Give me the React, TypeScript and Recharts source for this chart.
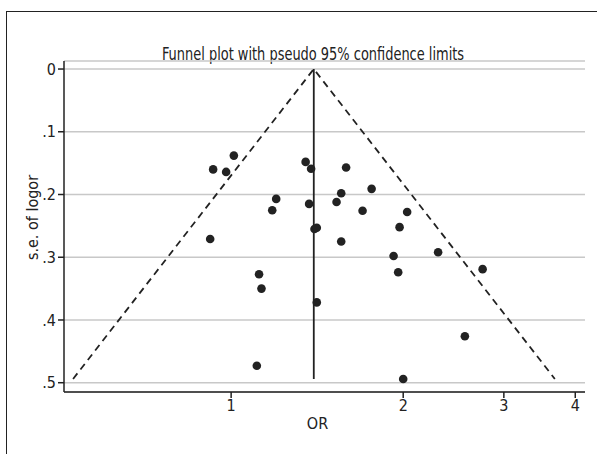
import {
  CartesianGrid,
  Label,
  Scatter,
  ScatterChart,
  XAxis,
  YAxis,
} from "recharts";

// odds ratios and standard errors of the studies
const studyOr = [
  0.93, 0.98, 1.011, 1.199, 1.18, 0.919, 1.119, 1.13, 1.35, 1.38,
  1.589, 1.558, 1.761, 1.369, 1.529, 1.698, 2.032, 1.399, 1.412, 1.971,
  1.558, 1.924, 2.302, 1.96, 2.754, 1.109, 1.412, 2.564, 2.0,
];
const studySe = [
  0.16, 0.164, 0.138, 0.207, 0.225, 0.271, 0.327, 0.35, 0.148, 0.159,
  0.157, 0.198, 0.191, 0.215, 0.212, 0.226, 0.228, 0.255, 0.253, 0.252,
  0.275, 0.298, 0.292, 0.324, 0.319, 0.473, 0.372, 0.426, 0.494,
];

// pseudo 95% limits: lower end, apex, upper end
const funnelOr = [0.529, 1.395, 3.684];
const funnelSe = [0.494, 0, 0.494];

// pooled estimate line
const pooledOr = [1.395, 1.395];
const pooledSe = [0, 0.494];

const xTicks = [1, 2, 3, 4];
const yTicks = [0, 0.1, 0.2, 0.3, 0.4, 0.5];

const studies = studyOr.map((or, i) => ({ or, se: studySe[i] }));
const funnel = funnelOr.map((or, i) => ({ or, se: funnelSe[i] }));
const pooled = pooledOr.map((or, i) => ({ or, se: pooledSe[i] }));

const font = '"Liberation Sans Narrow", "DejaVu Sans Condensed", sans-serif';
const ink = "#222";

const fmtSe = (v: number) => (v === 0 ? "0" : String(v).replace(/^0/, ""));

const Dot = (props: any) => (
  <circle cx={props.cx} cy={props.cy} r={4.3} fill={ink} />
);
const NoDot = () => <g />;

export default function App() {
  return (
    <div
      style={{
        position: "absolute",
        left: 0,
        top: 0,
        width: 597,
        height: 454,
        background: "#fff",
        fontFamily: font,
        overflow: "hidden",
      }}
    >
      <div
        style={{
          position: "absolute",
          left: 6,
          top: 11,
          width: 620,
          height: 460,
          borderLeft: `1.5px solid ${ink}`,
          borderTop: `1.5px solid ${ink}`,
        }}
      />
      <div
        style={{
          position: "absolute",
          left: 113,
          width: 400,
          top: 43,
          textAlign: "center",
          fontSize: 18,
          color: ink,
          transform: "scaleX(0.8)",
        }}
      >
        Funnel plot with pseudo 95% confidence limits
      </div>
      <div style={{ position: "absolute", left: 0, top: 0 }}>
        <ScatterChart
          width={597}
          height={454}
          margin={{ top: 61, right: 12, bottom: 22, left: 0 }}
        >
          <CartesianGrid
            vertical={false}
            stroke="#c8c8c8"
            strokeWidth={1.5}
          />
          <XAxis
            type="number"
            dataKey="or"
            scale="log"
            domain={[0.51, 4.16]}
            allowDataOverflow
            ticks={xTicks}
            height={40}
            tickSize={6}
            stroke={ink}
            strokeWidth={1.5}
            tick={{ fill: ink, fontSize: 16, fontFamily: font }}
          >
            <Label
              value="OR"
              position="center"
              dx={-7}
              dy={11}
              fill={ink}
              fontSize={16}
              fontFamily={font}
            />
          </XAxis>
          <YAxis
            type="number"
            dataKey="se"
            reversed
            domain={[-0.0128, 0.5148]}
            allowDataOverflow
            ticks={yTicks}
            tickFormatter={fmtSe}
            width={64}
            tickSize={6}
            stroke={ink}
            strokeWidth={1.5}
            tick={{ fill: ink, fontSize: 16, fontFamily: font }}
          >
            <Label
              value="s.e. of logor"
              position="center"
              angle={-90}
              dy={-9}
              fill={ink}
              fontSize={16}
              fontFamily={font}
            />
          </YAxis>
          <Scatter
            data={funnel}
            shape={NoDot}
            line={{ stroke: ink, strokeWidth: 1.8, strokeDasharray: "7 5" }}
            isAnimationActive={false}
          />
          <Scatter
            data={pooled}
            shape={NoDot}
            line={{ stroke: ink, strokeWidth: 1.8 }}
            isAnimationActive={false}
          />
          <Scatter data={studies} shape={Dot} isAnimationActive={false} />
        </ScatterChart>
      </div>
    </div>
  );
}
